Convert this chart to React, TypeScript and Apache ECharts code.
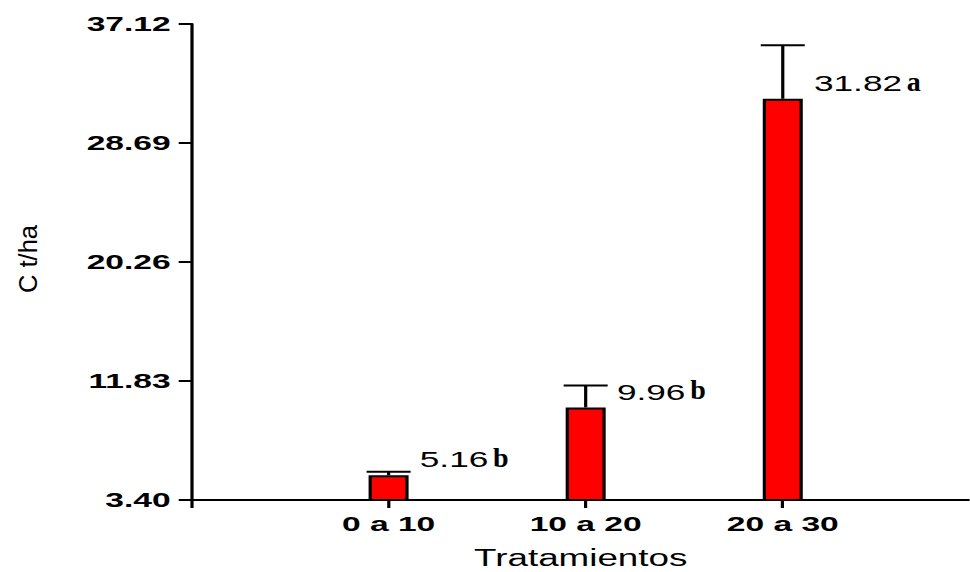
import React, { useEffect, useRef } from "react";
import * as echarts from "echarts";

// ---- data ----
const categories = ["0 a 10", "10 a 20", "20 a 30"];
const positions = [1, 2, 3];
const means = [5.16, 9.96, 31.82];
const errors = [0.25, 1.55, 3.8];
const letters = ["b", "b", "a"];
const yTicks = [3.4, 11.83, 20.26, 28.69, 37.12];
const xTicks = [0, 1, 2, 3];

const SX = 1.6; // horizontal stretch of the whole figure
const W = 970 / SX;
const H = 572;
const SANS = "'Liberation Sans', Arial, sans-serif";
const SERIF = "'Liberation Serif', 'Times New Roman', serif";

let measureCtx: CanvasRenderingContext2D | null = null;
function textWidth(s: string, font: string): number {
  if (!measureCtx) measureCtx = document.createElement("canvas").getContext("2d");
  if (!measureCtx) return s.length * 12;
  measureCtx.font = font;
  return measureCtx.measureText(s).width;
}

export default function App() {
  const ref = useRef<HTMLDivElement>(null);
  useEffect(() => {
    if (!ref.current) return;
    const chart = echarts.init(ref.current, null, { renderer: "svg", width: W, height: H });
    const numSize = 22;
    const letSize = 28;
    const option: any = {
      animation: false,
      backgroundColor: "#ffffff",
      grid: {
        left: 191.5 / SX,
        right: 0,
        top: 24,
        bottom: 72,
        containLabel: false,
        outerBoundsMode: "none",
      },
      xAxis: {
        type: "value",
        min: 0,
        max: 3.95,
        axisLine: { show: true, lineStyle: { color: "#000", width: 2 } },
        axisTick: { show: true, length: 8, lineStyle: { color: "#000", width: 2 }, customValues: xTicks },
        axisLabel: {
          customValues: positions,
          formatter: (v: number) => categories[Math.round(v) - 1] ?? "",
          color: "#000",
          fontFamily: SANS,
          fontWeight: "bold",
          fontSize: 21,
          margin: 13,
        },
        splitLine: { show: false },
        name: "Tratamientos",
        nameLocation: "middle",
        nameGap: 48,
        nameTextStyle: { color: "#000", fontFamily: SANS, fontSize: 23, lineHeight: 20 },
      },
      yAxis: {
        type: "value",
        min: 3.4,
        max: 37.12,
        axisLine: { show: true, lineStyle: { color: "#000", width: 2 } },
        axisTick: { show: true, length: 8, lineStyle: { color: "#000", width: 2 }, customValues: yTicks },
        axisLabel: {
          customValues: yTicks,
          formatter: (v: number) => v.toFixed(2),
          color: "#000",
          fontFamily: SANS,
          fontWeight: "bold",
          fontSize: 21,
          margin: 13,
        },
        splitLine: { show: false },
      },
      graphic: [
        {
          type: "text",
          x: 27.5 / SX,
          y: 259,
          rotation: Math.PI / 2,
          scaleY: 0.65,
          style: {
            text: "C t/ha",
            fontFamily: SANS,
            fontSize: 25.5,
            fill: "#000",
            align: "center",
            verticalAlign: "middle",
          },
        },
      ],
      series: [
        {
          type: "bar",
          data: positions.map((p, i) => [p, means[i]]),
          barWidth: 25,
          itemStyle: { color: "#ff0000", borderColor: "#000", borderWidth: 2 },
          z: 2,
        },
        {
          type: "custom",
          z: 3,
          data: positions.map((p, i) => [p, means[i], errors[i]]),
          renderItem: (params: any, api: any) => {
            const x = api.value(0);
            const y = api.value(1);
            const e = api.value(2);
            const idx = params.dataIndex;
            const top = api.coord([x, y]);
            const cap = api.coord([x, y + e]);
            const half = 13.75;
            const nStr = y.toFixed(2);
            const nW = textWidth(nStr, `${numSize}px ${SANS}`);
            const baseY = top[1] - 8;
            const nx = top[0] + 19.5;
            return {
              type: "group",
              children: [
                {
                  type: "line",
                  shape: { x1: top[0], y1: top[1], x2: cap[0], y2: cap[1] },
                  style: { stroke: "#000", lineWidth: 2 },
                },
                {
                  type: "line",
                  shape: { x1: cap[0] - half, y1: cap[1], x2: cap[0] + half, y2: cap[1] },
                  style: { stroke: "#000", lineWidth: 2 },
                },
                {
                  type: "text",
                  x: nx,
                  y: baseY - 0.3465 * numSize,
                  style: {
                    text: nStr,
                    fontFamily: SANS,
                    fontSize: numSize,
                    fill: "#000",
                    align: "left",
                    verticalAlign: "middle",
                  },
                },
                {
                  type: "text",
                  x: nx + nW + 3,
                  y: baseY - 0.3375 * letSize,
                  scaleX: 1 / SX,
                  style: {
                    text: letters[idx],
                    fontFamily: SERIF,
                    fontWeight: "bold",
                    fontSize: letSize,
                    fill: "#000",
                    align: "left",
                    verticalAlign: "middle",
                  },
                },
              ],
            };
          },
        },
      ],
    };
    chart.setOption(option);
    return () => chart.dispose();
  }, []);

  return (
    <div
      style={{
        position: "absolute",
        left: 0,
        top: 0,
        width: 970,
        height: 572,
        overflow: "hidden",
        background: "#fff",
      }}
    >
      <div
        ref={ref}
        style={{ width: W, height: H, transform: `scaleX(${SX})`, transformOrigin: "0 0" }}
      />
    </div>
  );
}
